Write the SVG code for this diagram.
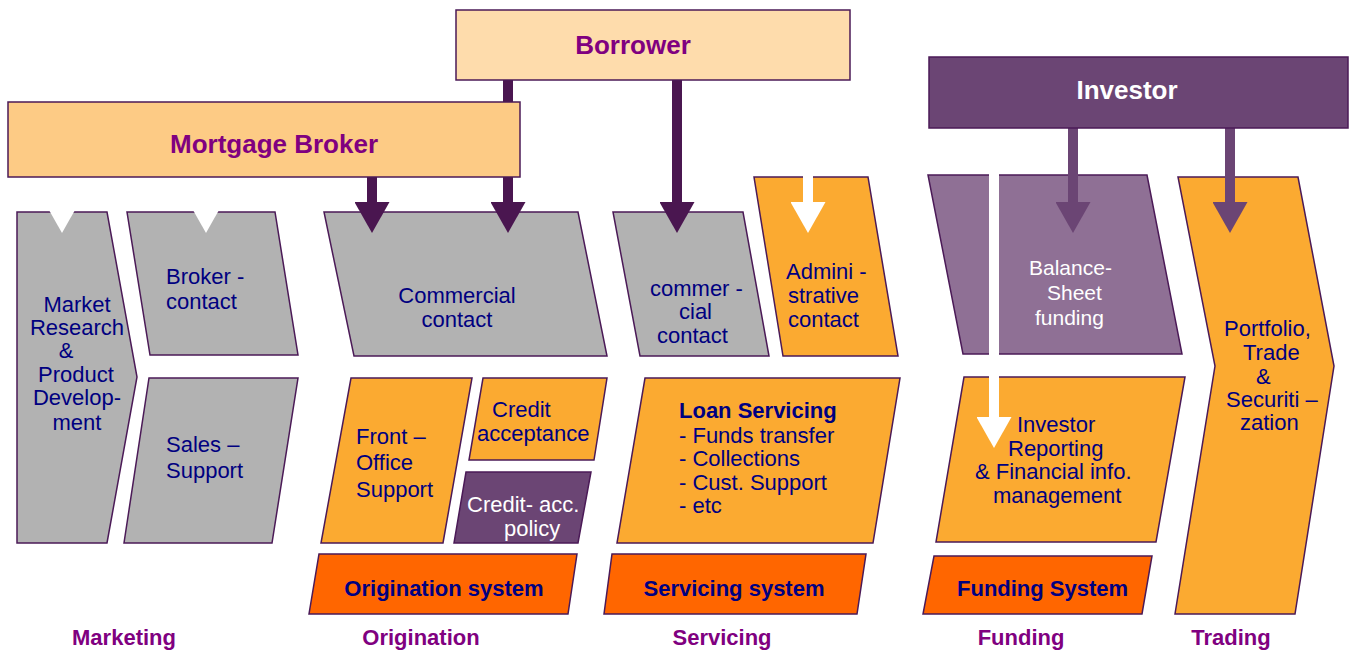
<svg xmlns="http://www.w3.org/2000/svg" width="1353" height="654" viewBox="0 0 1353 654">
  <style>
    .shape { stroke: #4b1a57; stroke-width: 1.5; stroke-linejoin: miter; }
    .gray { fill: #b2b2b2; }
    .orange { fill: #fbaa31; }
    .red { fill: #ff6600; }
    .plum { fill: #6b4574; }
    .mauve { fill: #8f7095; }
    .txt { font-family: "Liberation Sans", Arial, sans-serif; font-size: 22px; fill: #000080; }
    .wtxt { font-family: "Liberation Sans", Arial, sans-serif; font-size: 21px; fill: #ffffff; }
    .sys { font-family: "Liberation Sans", Arial, sans-serif; font-size: 22px; font-weight: bold; fill: #000080; }
    .head { font-family: "Liberation Sans", Arial, sans-serif; font-size: 26px; font-weight: bold; text-anchor: middle; }
    .col { font-family: "Liberation Sans", Arial, sans-serif; font-size: 22px; font-weight: bold; fill: #800080; text-anchor: middle; }
    .mid { text-anchor: middle; }
    .dark { stroke: #4a1650; stroke-width: 10; fill: none; }
    .violet { stroke: #6b4574; stroke-width: 10; fill: none; }
    .white { stroke: #ffffff; stroke-width: 10; fill: none; }
  </style>
  <defs>
    <marker id="headDark" markerUnits="userSpaceOnUse" viewBox="0 0 35 31" markerWidth="35" markerHeight="31" refX="17.5" refY="0" orient="0">
      <path d="M0,0 L35,0 L17.5,31 Z" fill="#4a1650"/>
    </marker>
    <marker id="headViolet" markerUnits="userSpaceOnUse" viewBox="0 0 35 31" markerWidth="35" markerHeight="31" refX="17.5" refY="0" orient="0">
      <path d="M0,0 L35,0 L17.5,31 Z" fill="#6b4574"/>
    </marker>
    <marker id="headWhite" markerUnits="userSpaceOnUse" viewBox="0 0 35 31" markerWidth="35" markerHeight="31" refX="17.5" refY="0" orient="0">
      <path d="M0,0 L35,0 L17.5,31 Z" fill="#ffffff"/>
    </marker>
  </defs>

  <!-- Marketing column -->
  <g id="market-research">
    <polygon class="shape gray" points="17,212 107,212 137,377 107,543 17,543"/>
    <text class="txt mid" x="77" y="312">Market</text>
    <text class="txt mid" x="77" y="335">Research</text>
    <text class="txt mid" x="66" y="358">&amp;</text>
    <text class="txt mid" x="76" y="382">Product</text>
    <text class="txt mid" x="77" y="405">Develop-</text>
    <text class="txt mid" x="77" y="430">ment</text>
  </g>
  <g id="broker-contact">
    <polygon class="shape gray" points="127,212 275,212 298,355 150,355"/>
    <text class="txt" x="166" y="284">Broker -</text>
    <text class="txt" x="166" y="309">contact</text>
  </g>
  <g id="sales-support">
    <polygon class="shape gray" points="149,378 298,378 272,543 124,543"/>
    <text class="txt" x="166" y="452">Sales –</text>
    <text class="txt" x="166" y="478">Support</text>
  </g>

  <!-- Origination column -->
  <g id="commercial-contact">
    <polygon class="shape gray" points="324,212 578,212 607,356 354,356"/>
    <text class="txt mid" x="457" y="303">Commercial</text>
    <text class="txt mid" x="457" y="327">contact</text>
  </g>
  <g id="front-office">
    <polygon class="shape orange" points="351,378 472,378 443,543 321,543"/>
    <text class="txt" x="356" y="444">Front –</text>
    <text class="txt" x="356" y="470">Office</text>
    <text class="txt" x="356" y="497">Support</text>
  </g>
  <g id="credit-acceptance">
    <polygon class="shape orange" points="483,378 607,378 594,460 469,460"/>
    <text class="txt" x="492" y="417">Credit</text>
    <text class="txt" x="477" y="441">acceptance</text>
  </g>
  <g id="credit-policy">
    <polygon class="shape plum" points="466,472 591,472 578,543 454,543"/>
    <text class="wtxt" x="467" y="512" style="font-size:22px">Credit- acc.</text>
    <text class="wtxt" x="504" y="536" style="font-size:22px">policy</text>
  </g>
  <g id="origination-system">
    <polygon class="shape red" points="319,554 577,554 568,614 309,614"/>
    <text class="sys mid" x="444" y="596">Origination system</text>
  </g>

  <!-- Servicing column -->
  <g id="commercial-contact-servicing">
    <polygon class="shape gray" points="613,212 743,212 769,356 640,356"/>
    <text class="txt" x="650" y="296">commer -</text>
    <text class="txt" x="679" y="319">cial</text>
    <text class="txt" x="657" y="343">contact</text>
  </g>
  <g id="administrative-contact">
    <polygon class="shape orange" points="754,177 868,177 898,356 783,356"/>
    <text class="txt" x="786" y="279">Admini -</text>
    <text class="txt" x="788" y="303">strative</text>
    <text class="txt" x="788" y="327">contact</text>
  </g>
  <g id="loan-servicing">
    <polygon class="shape orange" points="645,378 900,378 873,543 617,543"/>
    <text class="txt" x="679" y="418" font-weight="bold">Loan Servicing</text>
    <text class="txt" x="679" y="443">- Funds transfer</text>
    <text class="txt" x="679" y="466">- Collections</text>
    <text class="txt" x="679" y="490">- Cust. Support</text>
    <text class="txt" x="679" y="513">- etc</text>
  </g>
  <g id="servicing-system">
    <polygon class="shape red" points="612,554 866,554 857,614 604,614"/>
    <text class="sys mid" x="734" y="596">Servicing system</text>
  </g>

  <!-- Funding column -->
  <g id="balance-sheet-funding">
    <polygon class="shape mauve" points="928,175 1147,175 1182,354 963,354"/>
    <text class="wtxt" x="1029" y="275">Balance-</text>
    <text class="wtxt" x="1047" y="300">Sheet</text>
    <text class="wtxt" x="1035" y="325">funding</text>
  </g>
  <g id="investor-reporting">
    <polygon class="shape orange" points="964,377 1185,377 1156,542 936,542"/>
    <text class="txt" x="1017" y="432">Investor</text>
    <text class="txt" x="1008" y="456">Reporting</text>
    <text class="txt" x="975" y="479">&amp; Financial info.</text>
    <text class="txt" x="993" y="503">management</text>
  </g>
  <g id="funding-system">
    <polygon class="shape red" points="934,556 1152,556 1142,614 923,614"/>
    <text class="sys" x="957" y="596">Funding System</text>
  </g>

  <!-- Trading column -->
  <g id="trading">
    <polygon class="shape orange" points="1178,177 1298,177 1334,366 1295,614 1175,614 1215,366"/>
    <text class="txt" x="1224" y="336">Portfolio,</text>
    <text class="txt" x="1243" y="360">Trade</text>
    <text class="txt" x="1256" y="384">&amp;</text>
    <text class="txt" x="1226" y="407">Securiti –</text>
    <text class="txt" x="1240" y="430">zation</text>
  </g>

  <!-- Flows from the parties into the value chain -->
  <g id="connectors">
    <line class="white" x1="62" y1="177" x2="62" y2="202" marker-end="url(#headWhite)"/>
    <line class="white" x1="206" y1="177" x2="206" y2="202" marker-end="url(#headWhite)"/>
    <line class="dark" x1="372" y1="177" x2="372" y2="202" marker-end="url(#headDark)"/>
    <line class="dark" x1="508" y1="80" x2="508" y2="202" marker-end="url(#headDark)"/>
    <line class="dark" x1="677" y1="80" x2="677" y2="202" marker-end="url(#headDark)"/>
    <line class="white" x1="808" y1="80" x2="808" y2="202" marker-end="url(#headWhite)"/>
    <line class="white" x1="994" y1="128" x2="994" y2="417" marker-end="url(#headWhite)"/>
    <line class="violet" x1="1073" y1="128" x2="1073" y2="202" marker-end="url(#headViolet)"/>
    <line class="violet" x1="1230" y1="128" x2="1230" y2="202" marker-end="url(#headViolet)"/>
  </g>

  <!-- Parties -->
  <g id="borrower">
    <rect class="shape" x="456" y="10" width="394" height="70" fill="#fedcac"/>
    <text class="head" x="633" y="54" fill="#800080">Borrower</text>
  </g>
  <g id="mortgage-broker">
    <rect class="shape" x="8" y="102" width="512" height="75" fill="#fdcb85"/>
    <text class="head" x="274" y="153" fill="#800080">Mortgage Broker</text>
  </g>
  <g id="investor">
    <rect class="shape" x="929" y="57" width="419" height="71" fill="#6b4574"/>
    <text class="head" x="1127" y="99" fill="#ffffff">Investor</text>
  </g>

  <!-- Value chain stages -->
  <g id="stage-labels">
    <text class="col" x="124" y="645">Marketing</text>
    <text class="col" x="421" y="645">Origination</text>
    <text class="col" x="722" y="645">Servicing</text>
    <text class="col" x="1021" y="645">Funding</text>
    <text class="col" x="1231" y="645">Trading</text>
  </g>
</svg>
